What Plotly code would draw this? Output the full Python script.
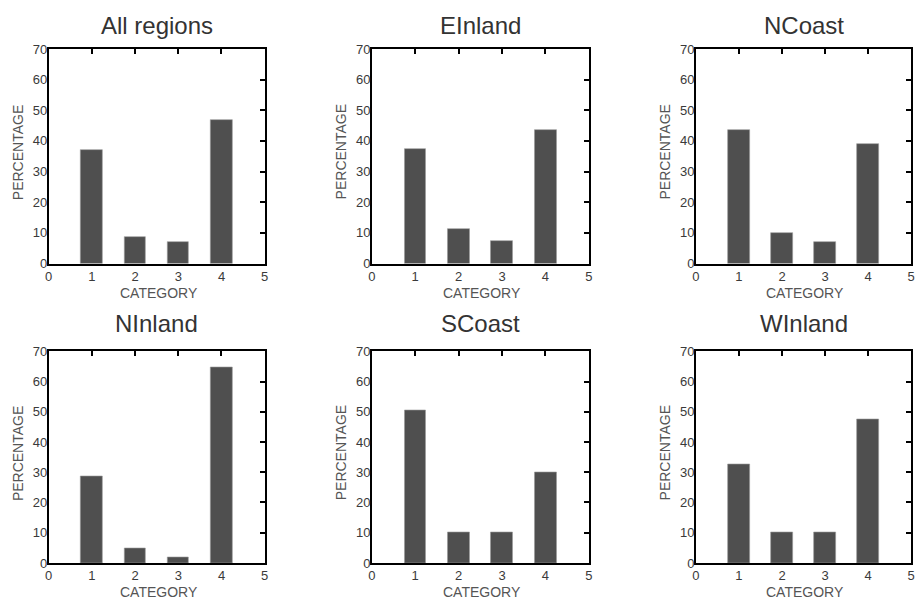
import plotly.graph_objects as go

W, H = 923, 609

regions = ["All regions", "EInland", "NCoast", "NInland", "SCoast", "WInland"]
categories = [1, 2, 3, 4]
all_regions = [37, 8.7, 7, 46.8]
einland = [37.3, 11.2, 7.5, 43.6]
ncoast = [43.6, 10.1, 7.1, 38.9]
ninland = [28.6, 5.0, 1.9, 64.7]
scoast = [50.4, 10.1, 10.1, 30.1]
winland = [32.7, 10.0, 10.0, 47.6]
series = [all_regions, einland, ncoast, ninland, scoast, winland]

x_ticks = [0, 1, 2, 3, 4, 5]
y_ticks = [0, 10, 20, 30, 40, 50, 60, 70]

# pixel boxes (left, right, top, bottom)
cols = [(45, 263), (371, 590), (698, 915)]
rows = [(43, 263), (353, 570)]

FONT = "Liberation Sans, Arial, sans-serif"
fig = go.Figure()
layout = {}
annotations = []

for i, (name, vals) in enumerate(zip(regions, series)):
    r, c = divmod(i, 3)
    l, rt = cols[c]
    t, b = rows[r]
    k = i + 1
    ko = i + 7
    xd = [l / W, rt / W]
    yd = [1 - b / H, 1 - t / H]
    sfx = "" if k == 1 else str(k)
    fig.add_trace(go.Bar(x=categories, y=vals, width=0.5,
                         marker=dict(color="#4f4f4f", line=dict(width=0.6, color="#9a9a9a")),
                         xaxis="x" + sfx, yaxis="y" + sfx, showlegend=False))
    fig.add_trace(go.Scatter(x=[None], y=[None], xaxis="x" + str(ko), yaxis="y" + str(ko),
                             showlegend=False, hoverinfo="skip"))
    layout["xaxis" + sfx] = dict(domain=xd, anchor="y" + sfx, range=[0, 5], tickvals=x_ticks,
                                 ticks="", showline=True, mirror=True, linecolor="black",
                                 linewidth=1.6, showgrid=False, zeroline=False,
                                 tickfont=dict(family=FONT, size=13, color="#3a3a3a"))
    layout["yaxis" + sfx] = dict(domain=yd, anchor="x" + sfx, range=[0, 70], tickvals=y_ticks,
                                 ticks="", showline=True, mirror=True, linecolor="black",
                                 linewidth=1.6, showgrid=False, zeroline=False,
                                 ticklabelstandoff=-3,
                                 tickfont=dict(family=FONT, size=13, color="#3a3a3a"))
    layout["xaxis" + str(ko)] = dict(overlaying="x" + sfx, anchor="y" + str(ko), side="top",
                                     range=[0, 5], tickvals=categories, ticks="inside",
                                     ticklen=5, tickwidth=1.6, tickcolor="black",
                                     showticklabels=False, showline=False, showgrid=False,
                                     zeroline=False)
    layout["yaxis" + str(ko)] = dict(overlaying="y" + sfx, anchor="x" + str(ko), side="right",
                                     range=[0, 70], tickvals=[10, 20, 30, 40, 50, 60],
                                     ticks="inside", ticklen=5, tickwidth=1.6, tickcolor="black",
                                     showticklabels=False, showline=False, showgrid=False,
                                     zeroline=False)
    cx = (l + rt) / 2
    ty = t - 24 if r == 0 else t - 28
    annotations.append(dict(text=name, x=cx / W, y=1 - ty / H, xref="paper", yref="paper",
                            xanchor="center", yanchor="middle", showarrow=False,
                            font=dict(family=FONT, size=24, color="#333333")))
    annotations.append(dict(text="PERCENTAGE", x=(l - 31) / W, y=1 - ((t + b) / 2 - 4) / H,
                            xref="paper", yref="paper", xanchor="center", yanchor="middle",
                            textangle=-90, showarrow=False,
                            font=dict(family=FONT, size=14, color="#555555")))
    annotations.append(dict(text="CATEGORY", x=(cx + 2) / W, y=1 - (b + 30) / H,
                            xref="paper", yref="paper", xanchor="center", yanchor="middle",
                            showarrow=False,
                            font=dict(family=FONT, size=14, color="#555555")))

fig.update_layout(width=W, height=H, margin=dict(l=0, r=0, t=0, b=0),
                  paper_bgcolor="white", plot_bgcolor="white",
                  annotations=annotations, bargap=0, **layout)
fig.write_html("out.html")
